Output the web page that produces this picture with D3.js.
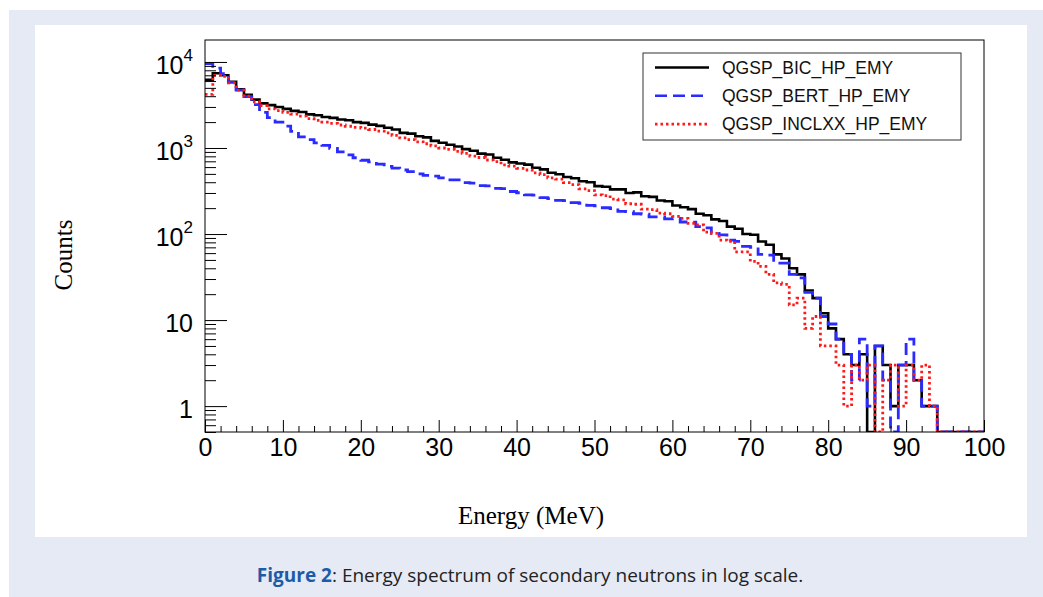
<!DOCTYPE html>
<html>
<head>
<meta charset="utf-8">
<script src="https://cdn.jsdelivr.net/npm/d3@7"></script>
<style>
  body { margin: 0; background: #ffffff; }
  svg { display: block; }
</style>
</head>
<body>
<div id="chart"></div>
<script>
// bin edges: 1 MeV bins starting at 0
var binStart = 0, binWidth = 1;

// counts per bin
var bicCounts = [
  6200,7400,7000,5900,4800,4150,3650,3300,3150,3000,
  2850,2700,2620,2460,2400,2290,2240,2140,2100,2000,
  1960,1870,1810,1720,1640,1500,1470,1370,1330,1210,
  1150,1090,1040,970,930,860,840,770,730,680,
  660,640,590,565,515,495,460,445,410,400,
  360,355,330,330,300,305,275,270,245,240,
  215,205,195,172,165,148,142,122,115,100,
  98,82,75,58,52,40,34,22,18,12,
  8,6,4,3,4,0,5,3,1,3,
  3,2,1,1,0,0,0,0,0,0
];
var bertCounts = [
  9600,8500,7300,5800,4700,3950,3200,2600,2250,2000,
  1800,1560,1350,1250,1150,1070,990,900,830,770,
  720,690,650,610,585,555,530,500,480,470,
  450,425,425,395,390,365,362,340,338,312,
  302,285,283,265,258,246,245,232,228,215,
  212,202,198,183,182,172,170,158,158,150,
  152,138,137,122,118,102,98,85,82,72,
  70,58,57,46,46,34,31,21,18,11,
  9,6,4,2,6,1,5,2,0,3,
  6,2,1,1,0,0,0,0,0,0
];
var inclCounts = [
  4200,7000,6800,5700,4700,4000,3450,3100,2850,2720,
  2600,2480,2350,2200,2100,2000,1930,1850,1790,1740,
  1700,1640,1570,1500,1400,1310,1250,1180,1120,1060,
  1000,965,915,865,805,775,725,695,635,615,
  580,555,515,490,450,435,395,375,335,320,
  285,280,255,250,225,222,195,192,175,172,
  160,152,133,128,105,102,85,82,62,62,
  48,42,34,27,26,15,18,8,11,5,
  5,3,1,3,2,3,0,2,3,1,
  3,2,3,1,0,0,0,0,0,0
];

var seriesNames = ["QGSP_BIC_HP_EMY", "QGSP_BERT_HP_EMY", "QGSP_INCLXX_HP_EMY"];
var seriesColors = ["#000000", "#2b2bff", "#ff1a1a"];
var seriesDash = [null, "12,6", "2.5,3"];

var xTicks = [0,10,20,30,40,50,60,70,80,90,100];
var yTicks = [1,10,100,1000,10000];
var yLabels = [["1",""],["10",""],["10","2"],["10","3"],["10","4"]];

var W = 1043, H = 597;
var svg = d3.select("#chart").append("svg")
    .attr("width", W)
    .attr("height", H);

// page backgrounds
svg.append("rect").attr("x", 9).attr("y", 10).attr("width", W - 9).attr("height", H - 10)
    .attr("fill", "#e6eaf5");
svg.append("rect").attr("x", 35).attr("y", 25).attr("width", 992).attr("height", 512)
    .attr("fill", "#ffffff");

var pLeft = 205, pRight = 984, pTop = 40, pBottom = 432;

var x = d3.scaleLinear().domain([0, 100]).range([pLeft, pRight]);
var y = d3.scaleLog().domain([0.5, 18000]).range([pBottom, pTop]);

svg.append("clipPath").attr("id", "plotclip")
  .append("rect").attr("x", pLeft).attr("y", pTop)
    .attr("width", pRight - pLeft).attr("height", pBottom - pTop);

// histogram outlines
function histPoints(counts) {
  var pts = counts.map(function(c, i) { return [binStart + i * binWidth, c]; });
  pts.push([binStart + counts.length * binWidth, counts[counts.length - 1]]);
  return pts;
}
var line = d3.line()
    .x(function(d) { return x(d[0]); })
    .y(function(d) { return y(Math.max(d[1], 0.5)); })
    .curve(d3.curveStepAfter);

var allCounts = [bicCounts, bertCounts, inclCounts];
var plot = svg.append("g").attr("clip-path", "url(#plotclip)");
allCounts.forEach(function(counts, i) {
  plot.append("path")
    .datum(histPoints(counts))
    .attr("d", line)
    .attr("fill", "none")
    .attr("stroke", seriesColors[i])
    .attr("stroke-width", i == 0 ? 2.6 : 2.8)
    .attr("stroke-dasharray", seriesDash[i]);
});

// axes, ROOT style ticks pointing inwards
var xMinor = d3.range(0, 101, 2).filter(function(v) { return v % 10 != 0; });
svg.append("g")
    .attr("transform", "translate(0," + pBottom + ")")
    .call(d3.axisBottom(x).tickValues(xMinor).tickSize(-6).tickSizeOuter(0).tickFormat(""))
    .call(function(g) { g.select(".domain").remove(); });
var xAxis = svg.append("g")
    .attr("transform", "translate(0," + pBottom + ")")
    .call(d3.axisBottom(x).tickValues(xTicks).tickSize(-12).tickSizeOuter(0).tickPadding(6))
    .call(function(g) { g.select(".domain").remove(); });
xAxis.selectAll("text")
    .attr("font-family", "'Liberation Sans', Arial, sans-serif")
    .attr("font-size", 25)
    .attr("fill", "#000");

var yMinor = [];
[0.1, 1, 10, 100, 1000].forEach(function(dec) {
  for (var k = 2; k <= 9; k++) {
    var v = dec * k;
    if (v >= 0.5 && v <= 18000) yMinor.push(v);
  }
});
svg.append("g")
    .attr("transform", "translate(" + pLeft + ",0)")
    .call(d3.axisLeft(y).tickValues(yMinor).tickSize(-11).tickSizeOuter(0).tickFormat(""))
    .call(function(g) { g.select(".domain").remove(); });
var yAxis = svg.append("g")
    .attr("transform", "translate(" + pLeft + ",0)")
    .call(d3.axisLeft(y).tickValues(yTicks).tickSize(-22).tickSizeOuter(0).tickPadding(12).tickFormat(""))
    .call(function(g) { g.select(".domain").remove(); });
yAxis.selectAll(".tick text")
    .attr("font-family", "'Liberation Sans', Arial, sans-serif")
    .attr("font-size", 25)
    .attr("fill", "#000")
    .attr("dy", "0.45em")
    .each(function(d, i) {
      var t = d3.select(this);
      var lab = yLabels[i];
      t.append("tspan").text(lab[0]);
      if (lab[1]) {
        t.append("tspan").attr("font-size", 17).attr("dy", "-0.75em").text(lab[1]);
      }
    });

svg.selectAll(".tick line").attr("stroke", "#000").attr("stroke-width", 1);

// frame
svg.append("rect")
    .attr("x", pLeft).attr("y", pTop)
    .attr("width", pRight - pLeft).attr("height", pBottom - pTop)
    .attr("fill", "none").attr("stroke", "#000").attr("stroke-width", 1);

// axis titles
svg.append("text")
    .attr("transform", "translate(72,255) rotate(-90)")
    .attr("text-anchor", "middle")
    .attr("font-family", "'Liberation Serif', 'Times New Roman', serif")
    .attr("font-size", 25)
    .text("Counts");
svg.append("text")
    .attr("x", 531).attr("y", 524)
    .attr("text-anchor", "middle")
    .attr("font-family", "'Liberation Serif', 'Times New Roman', serif")
    .attr("font-size", 25)
    .text("Energy (MeV)");

// legend
var legend = svg.append("g");
legend.append("rect")
    .attr("x", 643).attr("y", 53).attr("width", 318).attr("height", 87)
    .attr("fill", "#fff").attr("stroke", "#333").attr("stroke-width", 1);
var rows = legend.selectAll(".legend")
    .data(seriesNames)
    .enter()
    .append("g")
    .attr("class", "legend")
    .attr("transform", function(d, i) { return "translate(0," + (67.5 + i * 28.3) + ")"; });
rows.append("line")
    .attr("x1", 655).attr("x2", 709)
    .attr("stroke", function(d, i) { return seriesColors[i]; })
    .attr("stroke-width", 2.6)
    .attr("stroke-dasharray", function(d, i) { return seriesDash[i]; });
rows.append("text")
    .attr("x", 722).attr("y", 6)
    .attr("font-family", "'Liberation Sans', Arial, sans-serif")
    .attr("font-size", 17.5)
    .attr("fill", "#111")
    .text(function(d) { return d; });

// caption
var cap = svg.append("text")
    .attr("x", 530).attr("y", 582)
    .attr("text-anchor", "middle")
    .attr("font-family", "'Open Sans', 'Noto Sans', sans-serif")
    .attr("font-size", 19)
    .attr("fill", "#222");
cap.append("tspan").attr("font-weight", "bold").attr("fill", "#1d5ba8").text("Figure 2");
cap.append("tspan").text(": Energy spectrum of secondary neutrons in log scale.");
</script>
</body>
</html>
